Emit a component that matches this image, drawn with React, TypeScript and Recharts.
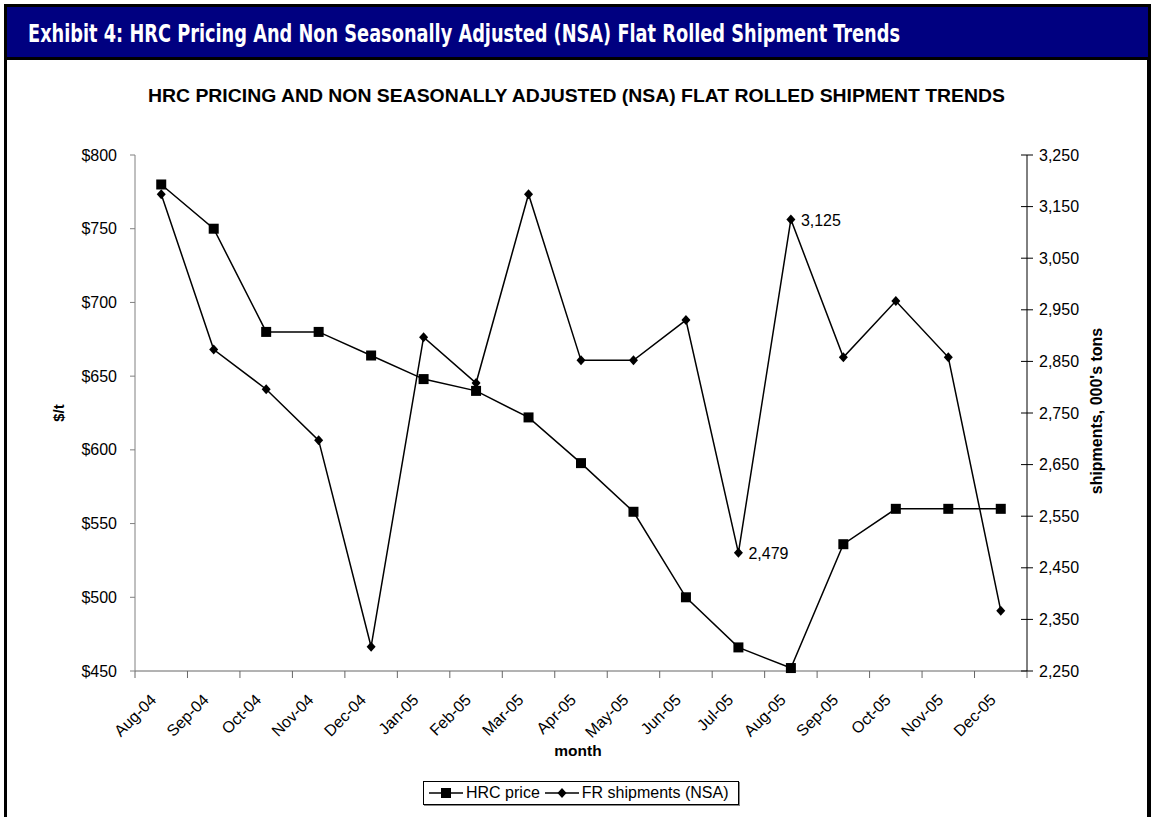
import React from "react";
import { LineChart, Line, XAxis, YAxis, Legend, LabelList } from "recharts";

const months = [
  "Aug-04", "Sep-04", "Oct-04", "Nov-04", "Dec-04", "Jan-05", "Feb-05", "Mar-05", "Apr-05",
  "May-05", "Jun-05", "Jul-05", "Aug-05", "Sep-05", "Oct-05", "Nov-05", "Dec-05",
];
const hrcPrice = [780, 750, 680, 680, 664, 648, 640, 622, 591, 558, 500, 466, 452, 536, 560, 560, 560];
const frShipments = [3174, 2873, 2796, 2697, 2297, 2897, 2808, 3174, 2852, 2852, 2930, 2479, 3125, 2858, 2967, 2858, 2367];
const labelledMonths = ["Jul-05", "Aug-05"];
const seriesOrder = ["hrc", "fr"];
const priceTicks = [450, 500, 550, 600, 650, 700, 750, 800];
const shipTicks = [2250, 2350, 2450, 2550, 2650, 2750, 2850, 2950, 3050, 3150, 3250];

const FONT = "'Liberation Sans', Arial, sans-serif";
const FS = 16;
const W = 1156;
const H = 817;

const data = months.map((m, i) => ({ month: m, hrc: hrcPrice[i], fr: frShipments[i] }));

const fmtComma = (v: number) => v.toLocaleString("en-US");

function MonthTick(props: any) {
  const { x, y, payload, index, visibleTicksCount } = props;
  const half = payload?.offset || 26.24;
  const ax = x - 4;
  const ay = y + 30;
  return (
    <g>
      <line x1={x - half} y1={y} x2={x - half} y2={y + 7} stroke="#666" />
      {index === visibleTicksCount - 1 ? <line x1={x + half} y1={y} x2={x + half} y2={y + 7} stroke="#666" /> : null}
      <text x={ax} y={ay} textAnchor="end" transform={`rotate(-45 ${ax} ${ay})`} fontFamily={FONT} fontSize={FS} fill="#000">
        {payload.value}
      </text>
    </g>
  );
}

function PriceTick(props: any) {
  const { x, y, payload } = props;
  return (
    <g>
      <line x1={x - 5} y1={y} x2={x} y2={y} stroke="#808080" />
      <text x={x - 18} y={y + 5.5} textAnchor="end" fontFamily={FONT} fontSize={FS} fill="#000">
        ${payload.value}
      </text>
    </g>
  );
}

function ShipTick(props: any) {
  const { x, y, payload } = props;
  return (
    <g>
      <line x1={x - 6} y1={y} x2={x + 6} y2={y} stroke="#000" />
      <text x={x + 12} y={y + 5.5} textAnchor="start" fontFamily={FONT} fontSize={FS} fill="#000">
        {fmtComma(payload.value)}
      </text>
    </g>
  );
}

const SquareDot = (p: any) =>
  p.cx == null ? <g key={p.key} /> : <rect key={p.key} x={p.cx - 5} y={p.cy - 5} width={10} height={10} fill="#000" />;

const DiamondDot = (p: any) =>
  p.cx == null ? (
    <g key={p.key} />
  ) : (
    <path key={p.key} d={`M${p.cx},${p.cy - 5}L${p.cx + 4.5},${p.cy}L${p.cx},${p.cy + 5}L${p.cx - 4.5},${p.cy}Z`} fill="#000" />
  );

function FrLabel(props: any) {
  const { x, y, value, index } = props;
  if (!labelledMonths.includes(months[index])) return null;
  return (
    <text x={x + 10} y={y + 6} fontFamily={FONT} fontSize={FS} fill="#000">
      {fmtComma(value)}
    </text>
  );
}

function PriceTitle(props: any) {
  const vb = props.viewBox || { x: 55, y: 155, width: 80, height: 516 };
  const tx = vb.x + 9;
  const ty = vb.y + vb.height / 2;
  return (
    <text x={tx} y={ty} textAnchor="middle" transform={`rotate(-90 ${tx} ${ty})`} fontFamily={FONT} fontSize={15} fontWeight="bold">
      $/t
    </text>
  );
}

function ShipTitle(props: any) {
  const vb = props.viewBox || { x: 1027, y: 155, width: 100, height: 516 };
  const tx = vb.x + 75;
  const ty = vb.y + vb.height / 2 - 2;
  return (
    <text x={tx} y={ty} textAnchor="middle" transform={`rotate(-90 ${tx} ${ty})`} fontFamily={FONT} fontSize={16} fontWeight="bold">
      shipments, 000's tons
    </text>
  );
}

function MonthTitle(props: any) {
  const vb = props.viewBox || { x: 135, y: 671, width: 892, height: 90 };
  return (
    <text x={vb.x + vb.width / 2 - 3} y={vb.y + 85} textAnchor="middle" fontFamily={FONT} fontSize={15.5} fontWeight="bold">
      month
    </text>
  );
}

function LegendBox(props: any) {
  const items = (props.payload || [])
    .slice()
    .sort((a: any, b: any) => seriesOrder.indexOf(a.dataKey) - seriesOrder.indexOf(b.dataKey));
  return (
    <div
      style={{
        display: "flex",
        alignItems: "center",
        height: 22,
        border: "1px solid #000",
        boxShadow: "1px 1px 0 #888",
        background: "#fff",
        padding: "0 4px",
        fontFamily: FONT,
        fontSize: FS,
        whiteSpace: "nowrap",
      }}
    >
      {items.map((it: any) => (
        <span key={it.value} style={{ display: "inline-flex", alignItems: "center", marginRight: 4 }}>
          <svg width={36} height={12} style={{ marginRight: 2 }}>
            <line x1={1} y1={6} x2={35} y2={6} stroke="#000" strokeWidth={1.5} />
            {it.dataKey === "hrc" ? (
              <rect x={13} y={1} width={10} height={10} fill="#000" />
            ) : (
              <path d="M18,1L22.5,6L18,11L13.5,6Z" fill="#000" />
            )}
          </svg>
          {it.value}
        </span>
      ))}
    </div>
  );
}

export default function App() {
  return (
    <div style={{ position: "absolute", left: 0, top: 0, width: W, height: H, background: "#fff", overflow: "hidden" }}>
      {/* frame */}
      <div style={{ position: "absolute", left: 4, top: 4, width: 1147, height: H, borderLeft: "3px solid #000", borderRight: "4px solid #000", boxSizing: "border-box" }} />
      <div style={{ position: "absolute", left: 4, top: 4, width: 1147, height: 56, background: "#000080", border: "3px solid #000", boxSizing: "border-box" }}>
        <svg width={1141} height={50} style={{ position: "absolute", left: 0, top: 0 }}>
          <text
            x={21}
            y={35}
            fill="#fff"
            fontFamily="'DejaVu Sans Condensed', 'DejaVu Sans', sans-serif"
            fontWeight="bold"
            fontSize={24}
            textLength={872}
            lengthAdjust="spacingAndGlyphs"
          >
            Exhibit 4: HRC Pricing And Non Seasonally Adjusted (NSA) Flat Rolled Shipment Trends
          </text>
        </svg>
      </div>
      <svg width={W} height={130} style={{ position: "absolute", left: 0, top: 0 }}>
        <text x={148} y={102} fontFamily={FONT} fontWeight="bold" fontSize={17.5} textLength={857} lengthAdjust="spacingAndGlyphs">
          HRC PRICING AND NON SEASONALLY ADJUSTED (NSA) FLAT ROLLED SHIPMENT TRENDS
        </text>
      </svg>
      <div style={{ position: "absolute", left: 0, top: 0 }}>
        <LineChart width={W} height={H} data={data} margin={{ top: 155, right: 29, bottom: 56, left: 55 }}>
          <XAxis
            dataKey="month"
            scale="band"
            height={90}
            stroke="#666"
            tickLine={false}
            tickSize={0}
            tickMargin={0}
            interval={0}
            tick={<MonthTick />}
            label={<MonthTitle />}
          />
          <YAxis
            yAxisId="left"
            width={80}
            domain={[450, 800]}
            ticks={priceTicks}
            stroke="#808080"
            tickLine={false}
            tickSize={0}
            tickMargin={0}
            interval={0}
            tick={<PriceTick />}
            label={<PriceTitle />}
          />
          <YAxis
            yAxisId="right"
            orientation="right"
            width={100}
            domain={[2250, 3250]}
            ticks={shipTicks}
            stroke="#000"
            tickLine={false}
            tickSize={0}
            tickMargin={0}
            interval={0}
            tick={<ShipTick />}
            label={<ShipTitle />}
          />
          <Legend
            layout="horizontal"
            verticalAlign="middle"
            align="center"
            itemSorter={null}
            wrapperStyle={{ top: 781, left: 423, width: 316, height: 24 }}
            content={<LegendBox />}
          />
          <Line
            yAxisId="left"
            dataKey="hrc"
            name="HRC price"
            stroke="#000"
            strokeWidth={1.5}
            dot={SquareDot}
            activeDot={false}
            isAnimationActive={false}
          />
          <Line
            yAxisId="right"
            dataKey="fr"
            name="FR shipments (NSA)"
            stroke="#000"
            strokeWidth={1.5}
            dot={DiamondDot}
            activeDot={false}
            isAnimationActive={false}
          >
            <LabelList dataKey="fr" content={<FrLabel />} />
          </Line>
        </LineChart>
      </div>
    </div>
  );
}
